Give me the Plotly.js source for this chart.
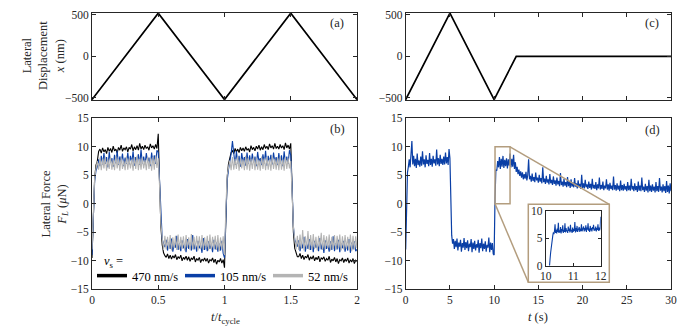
<!DOCTYPE html>
<html>
<head>
<meta charset="utf-8">
<script src="https://cdn.plot.ly/plotly-3.0.1.min.js"></script>
<style>html,body{margin:0;padding:0;background:#fff;}#chart{width:697px;height:335px;}</style>
</head>
<body>
<div id="chart"></div>
<script>
// ---------- data ----------
// (a) lateral displacement, t / t_cycle
const dispCycleT = [0, 0.5, 1, 1.5, 2];
const dispCycleX = [-520, 520, -520, 520, -520];
// (c) lateral displacement, t (s)
const dispTimeT = [0, 5, 10, 12.5, 30];
const dispTimeX = [-520, 520, -520, 0, 0];

// (b) lateral force vs t/t_cycle, sampled every 0.01 t_cycle
const cycleStep = 0.01;
const force470 = [
 -9.5, -3, 4.5, 6.8, 7.5, 9.2, 9.6, 8.9, 9.8, 9.1,
 9.5, 8.8, 9.9, 9.2, 9.7, 9.0, 10.1, 9.3, 9.6, 8.9,
 9.9, 9.4, 10.3, 9.2, 9.8, 9.5, 10.0, 9.1, 9.9, 9.6,
 10.4, 9.3, 10.0, 9.5, 10.2, 9.4, 10.6, 9.6, 10.1, 9.5,
 10.3, 9.7, 10.0, 9.4, 10.5, 9.8, 10.2, 9.6, 10.4, 9.7,
 12.3, 3.5, -4, -7.2, -8.6, -9.1, -9.4, -8.8, -9.6, -9.0,
 -9.7, -9.1, -9.5, -8.9, -9.8, -9.3, -9.6, -9.0, -10.0, -9.4,
 -9.7, -9.2, -9.9, -9.3, -10.1, -9.5, -9.8, -9.2, -10.2, -9.6,
 -9.9, -9.4, -10.3, -9.7, -10.0, -9.5, -10.1, -9.6, -10.4, -9.8,
 -10.0, -9.5, -10.3, -9.7, -10.6, -9.9, -10.2, -9.6, -10.4, -9.8,
 -11.2, -3, 4.5, 7, 8.2, 9.0, 9.3, 8.8, 9.7, 9.1,
 9.6, 9.0, 9.9, 9.3, 9.8, 9.2, 10.0, 9.4, 9.7, 9.1,
 10.2, 9.5, 9.9, 9.3, 10.1, 9.6, 10.3, 9.4, 10.0, 9.5,
 10.4, 9.7, 10.1, 9.5, 10.5, 9.8, 10.2, 9.6, 10.6, 9.7,
 10.1, 9.6, 10.4, 9.8, 10.2, 9.5, 10.7, 9.8, 10.3, 9.6,
 10.6, 2, -5, -7.8, -8.8, -9.3, -9.3, -8.7, -9.6, -9.0,
 -9.8, -9.2, -9.5, -8.9, -9.9, -9.3, -9.7, -9.1, -10.0, -9.4,
 -9.8, -9.2, -10.2, -9.5, -9.7, -9.3, -10.1, -9.6, -9.9, -9.2,
 -10.3, -9.7, -10.0, -9.4, -10.2, -9.6, -10.5, -9.8, -10.0, -9.5,
 -10.3, -9.7, -10.1, -9.5, -10.4, -9.8, -10.2, -9.6, -10.5, -9.9,
 -10.1
];
const force105 = [
 -9, -2, 4, 5.8, 6.5, 7.8, 6.6, 8.4, 6.9, 8.9,
 7.0, 8.2, 6.4, 9.1, 7.2, 8.0, 6.5, 8.6, 7.1, 9.3,
 6.8, 8.3, 7.3, 8.8, 6.6, 8.1, 7.0, 9.0, 6.9, 8.4,
 7.2, 9.2, 6.7, 8.2, 7.4, 8.7, 6.8, 9.5, 7.1, 8.3,
 6.9, 8.9, 7.3, 8.1, 6.6, 9.0, 7.2, 8.5, 7.0, 9.4,
 9.0, 4, -3, -6.2, -7.0, -7.6, -6.3, -8.2, -6.8, -7.9,
 -6.1, -8.4, -7.0, -7.7, -5.6, -8.1, -6.9, -8.3, -6.4, -7.8,
 -7.1, -8.5, -6.2, -7.9, -6.8, -8.2, -5.5, -8.0, -7.0, -8.4,
 -6.5, -7.8, -7.2, -8.6, -6.0, -8.1, -6.9, -8.3, -6.6, -7.9,
 -7.1, -8.5, -6.3, -8.0, -6.8, -8.4, -7.0, -8.2, -6.5, -8.7,
 -9.5, -2, 4, 6.0, 7.2, 8.8, 11.0, 8.1, 6.8, 9.2,
 7.1, 8.4, 6.5, 8.9, 7.3, 8.2, 6.7, 9.0, 7.0, 8.5,
 6.9, 8.8, 7.2, 8.3, 6.6, 9.1, 7.4, 8.0, 6.8, 8.7,
 7.1, 9.3, 6.7, 8.4, 7.2, 8.6, 6.9, 9.0, 7.3, 8.2,
 6.8, 8.9, 7.1, 8.5, 6.6, 9.2, 7.2, 8.3, 7.0, 9.4,
 8.5, 3, -4, -6.3, -7.1, -7.5, -6.4, -8.3, -6.9, -7.8,
 -5.8, -8.4, -7.0, -7.9, -6.2, -8.1, -6.8, -8.5, -6.5, -7.7,
 -7.1, -8.3, -6.0, -8.0, -6.9, -8.6, -6.4, -7.9, -7.2, -8.4,
 -6.6, -8.1, -5.7, -8.3, -6.9, -8.0, -6.3, -8.5, -7.0, -7.8,
 -6.5, -8.4, -7.1, -8.2, -6.2, -8.6, -6.8, -8.0, -6.6, -8.3,
 -8.0
];
const force52 = [
 -8, -1, 4.5, 6.2, 7.5, 6.0, 8.1, 5.9, 7.9, 6.2,
 8.3, 5.8, 7.8, 6.1, 8.2, 6.0, 7.7, 5.9, 8.4, 6.2,
 7.9, 5.8, 8.1, 6.1, 7.6, 5.9, 8.3, 6.0, 8.0, 6.2,
 7.8, 5.8, 8.2, 6.1, 8.4, 5.9, 7.9, 6.0, 8.1, 6.2,
 7.7, 5.9, 8.3, 6.1, 8.0, 5.8, 8.2, 6.0, 8.5, 6.3,
 8.0, 3, -3.5, -6.0, -8.1, -5.6, -8.0, -5.8, -7.9, -5.5,
 -8.2, -5.9, -7.8, -5.6, -8.1, -5.4, -8.0, -5.8, -7.9, -5.7,
 -8.2, -5.5, -7.7, -5.9, -8.1, -5.3, -8.0, -5.8, -7.8, -5.6,
 -8.2, -5.7, -7.9, -5.5, -8.1, -5.9, -7.8, -5.6, -8.2, -5.4,
 -8.0, -5.8, -7.9, -5.6, -8.1, -5.5, -8.3, -5.9, -8.0, -5.7,
 -9, -1, 5, 6.3, 7.6, 5.9, 8.2, 6.0, 7.9, 6.1,
 8.3, 5.8, 8.0, 6.2, 7.8, 5.9, 8.4, 6.0, 8.1, 5.8,
 7.9, 6.1, 8.2, 5.9, 8.0, 6.0, 7.7, 5.8, 8.3, 6.1,
 8.0, 5.9, 8.2, 6.0, 7.8, 5.8, 8.4, 6.1, 7.9, 6.0,
 8.1, 5.9, 8.3, 6.0, 7.8, 5.8, 8.2, 6.1, 8.0, 6.2,
 7.5, 2, -4, -6.2, -8.0, -5.6, -8.1, -5.4, -7.9, -4.6,
 -8.2, -5.7, -7.8, -4.8, -8.1, -5.5, -8.0, -5.3, -7.9, -5.8,
 -8.2, -5.6, -7.7, -5.1, -8.1, -5.5, -8.0, -5.7, -7.8, -5.4,
 -8.2, -5.8, -7.9, -5.5, -8.1, -5.6, -7.8, -5.4, -8.2, -5.7,
 -8.0, -5.5, -7.9, -5.8, -8.1, -5.4, -8.3, -5.6, -8.0, -5.7,
 -7.8
];

// (d) lateral force vs time (s), sampled every 0.1 s
const timeStep = 0.1;
const forceTime = [
 -8, 1, 5.5, 6.5, 7.8, 6.4, 8.2, 11.0, 6.9, 8.4,
 6.6, 7.9, 6.3, 8.8, 6.8, 7.6, 6.5, 8.3, 6.7, 9.2,
 6.9, 7.8, 6.4, 8.5, 7.0, 7.7, 6.6, 8.9, 6.8, 7.9,
 6.5, 8.4, 7.1, 7.8, 6.7, 9.5, 6.9, 8.0, 6.6, 8.6,
 7.0, 7.9, 6.8, 8.3, 6.9, 9.0, 7.1, 8.2, 6.8, 9.6,
 8.0, 0, -5.5, -7.0, -6.2, -7.9, -6.5, -7.6, -6.1, -8.2,
 -6.8, -7.5, -6.3, -8.4, -6.9, -7.7, -6.0, -8.1, -6.7, -7.8,
 -6.4, -8.3, -7.0, -7.6, -6.2, -8.5, -6.8, -7.9, -6.5, -8.2,
 -7.1, -7.7, -6.3, -8.6, -6.9, -7.8, -6.1, -8.3, -7.0, -7.9,
 -6.6, -8.4, -7.2, -7.7, -5.9, -8.5, -6.8, -8.1, -6.9, -8.8,
 -9.0, 1, 6.0, 5.8, 7.5, 6.4, 8.2, 6.1, 7.9, 6.5,
 8.4, 6.3, 7.7, 6.6, 8.0, 6.2, 7.8, 6.7, 8.8, 6.4,
 7.9, 6.5, 8.6, 6.1, 7.3, 5.6, 6.5, 5.2, 6.0, 4.9,
 5.7, 4.6, 5.5, 4.3, 5.2, 4.4, 5.6, 4.1, 5.0, 7.8,
 4.3, 4.9, 3.9, 5.3, 4.0, 4.7, 3.8, 5.5, 4.1, 4.6,
 3.7, 5.1, 3.9, 4.5, 3.6, 6.4, 3.8, 4.4, 3.5, 4.9,
 3.7, 4.3, 3.4, 5.2, 3.6, 4.2, 3.3, 4.8, 3.5, 4.1,
 3.2, 4.6, 3.4, 4.0, 3.1, 5.4, 3.3, 3.9, 3.0, 4.4,
 3.2, 3.8, 2.9, 4.7, 3.1, 3.9, 2.8, 4.3, 3.0, 3.7,
 2.9, 4.5, 3.0, 3.6, 2.7, 4.1, 2.9, 3.5, 2.6, 5.1,
 2.8, 3.6, 2.7, 4.2, 2.9, 3.4, 2.6, 3.9, 2.8, 3.5,
 2.5, 4.4, 2.7, 3.3, 2.6, 3.8, 2.4, 3.4, 2.7, 4.6,
 2.5, 3.3, 2.6, 3.9, 2.4, 3.2, 2.7, 4.3, 2.5, 3.4,
 2.3, 3.7, 2.6, 3.2, 2.4, 4.8, 2.5, 3.3, 2.3, 3.6,
 2.5, 3.2, 2.2, 4.1, 2.4, 3.3, 2.3, 3.5, 2.5, 3.1,
 2.2, 3.8, 2.4, 3.2, 2.3, 4.4, 2.5, 3.1, 2.2, 3.6,
 2.4, 3.1, 2.1, 3.9, 2.3, 3.2, 2.2, 4.6, 2.4, 3.0,
 2.1, 3.5, 2.3, 3.1, 2.0, 4.2, 2.2, 3.2, 2.1, 3.4,
 2.3, 3.0, 2.0, 3.8, 2.2, 3.1, 2.1, 4.5, 2.3, 3.0,
 2.0, 3.4, 2.2, 3.1, 1.9, 4.0, 2.1, 3.2, 1.8, 3.6,
 2.2
];

// inset: 10 s .. 12 s, sampled every 0.02 s
const insetStart = 10;
const insetStep = 0.02;
const forceInset = [
 -9, -7.5, -6, -4.5, -3, -1.8, -0.8, 0.2, 1.3, 2.4,
 3.5, 4.4, 5.2, 5.6, 6.1, 5.8, 6.4, 7.6, 6.0, 6.6,
 5.9, 6.8, 6.2, 7.9, 6.0, 6.5, 6.1, 7.1, 5.9, 6.7,
 6.3, 7.4, 6.0, 6.6, 6.2, 7.8, 6.1, 6.9, 6.3, 6.5,
 6.0, 7.2, 6.4, 6.8, 6.1, 7.5, 6.3, 6.6, 6.0, 7.0,
 6.2, 6.7, 6.4, 8.0, 6.1, 6.9, 6.3, 7.3, 6.2, 6.6,
 6.5, 7.1, 6.2, 6.8, 6.4, 7.6, 6.3, 6.7, 6.6, 7.2,
 6.3, 6.9, 6.5, 7.4, 6.2, 7.0, 6.6, 7.8, 6.4, 6.8,
 6.2, 7.3, 6.5, 6.9, 6.3, 7.1, 6.7, 7.5, 6.4, 6.8,
 6.5, 7.2, 6.3, 6.9, 6.6, 7.6, 6.4, 7.0, 6.5, 6.8,
 9.0
];
// zoomed window shown in (d)
const zoomWin = {t0: 10.1, t1: 11.8, f0: 0, f1: 10};

const speedLabels = ['470 nm/s', '105 nm/s', '52 nm/s'];
const speedColors = ['#000000', '#0a3fa6', '#b4b4b4'];

// ---------- build ----------
const W = 697, H = 335;
const px = v => v / W;
const py = v => 1 - v / H;
const grid = (arr, step, start) => arr.map((_, i) => +((start || 0) + i * step).toFixed(4));

const tCycle = grid(force470, cycleStep);
const tTime = grid(forceTime, timeStep);
const tInset = grid(forceInset, insetStep, insetStart);

const blue = speedColors[1];
const FONT = '"Liberation Serif", serif';
const AX = '#262626';
const TAN = '#b39d7e';

const dom = {
  xL: [px(92), px(357)], xR: [px(405.7), px(671)],
  yT: [py(100), py(12.5)], yB: [py(289.3), py(118.3)],
  xI: [px(545.7), px(600.7)], yI: [py(265.5), py(211.3)]
};

function axis(extra) {
  return Object.assign({
    showline: true, linecolor: AX, linewidth: 1, mirror: 'ticks',
    ticks: 'inside', ticklen: 4, tickcolor: AX, tickwidth: 1,
    showgrid: false, zeroline: false,
    tickfont: {family: FONT, size: 11.5, color: AX},
    fixedrange: true
  }, extra);
}

const traces = [
  {x: dispCycleT, y: dispCycleX, xaxis: 'x', yaxis: 'y', mode: 'lines',
   line: {color: '#000', width: 1.7}, showlegend: false},
  {x: dispTimeT, y: dispTimeX, xaxis: 'x3', yaxis: 'y3', mode: 'lines',
   line: {color: '#000', width: 1.7}, showlegend: false}
];
[force470, force105, force52].forEach((f, k) => {
  traces.push({x: tCycle, y: f, xaxis: 'x2', yaxis: 'y2', mode: 'lines',
    line: {color: speedColors[k], width: 1.1}, showlegend: false});
});
// legend entries
speedLabels.forEach((lab, k) => {
  traces.push({x: [null], y: [null], xaxis: 'x2', yaxis: 'y2', mode: 'lines',
    name: lab, line: {color: speedColors[k], width: 3.5}, showlegend: true});
});
traces.push({x: tTime, y: forceTime, xaxis: 'x4', yaxis: 'y4', mode: 'lines',
  line: {color: blue, width: 1.2}, showlegend: false});
traces.push({x: tInset, y: forceInset, xaxis: 'x5', yaxis: 'y5', mode: 'lines',
  line: {color: blue, width: 1.1}, showlegend: false});

const rx4 = [0, 30], ry4 = [-15, 15];
const d2px = (v, r, d) => d[0] + (v - r[0]) / (r[1] - r[0]) * (d[1] - d[0]);

const frame = {x0: px(528.3), x1: px(609.3), y0: py(282.3), y1: py(204.3)};

function note(text, x, y, extra) {
  return Object.assign({text: text, xref: 'paper', yref: 'paper', x: px(x), y: py(y),
    xanchor: 'center', yanchor: 'middle', showarrow: false,
    font: {family: FONT, size: 12.5, color: AX}}, extra || {});
}

const layout = {
  width: W, height: H,
  margin: {l: 0, r: 0, t: 0, b: 0},
  paper_bgcolor: '#fff', plot_bgcolor: '#fff',
  font: {family: FONT, size: 12, color: AX},
  xaxis: axis({domain: dom.xL, anchor: 'y', range: [0, 2], dtick: 0.5, showticklabels: false}),
  yaxis: axis({domain: dom.yT, anchor: 'x', range: [-525, 528], tickvals: [-500, 0, 500]}),
  xaxis2: axis({domain: dom.xL, anchor: 'y2', range: [0, 2], tickvals: [0, 0.5, 1, 1.5, 2]}),
  yaxis2: axis({domain: dom.yB, anchor: 'x2', range: [-15, 15], dtick: 5}),
  xaxis3: axis({domain: dom.xR, anchor: 'y3', range: [0, 30], dtick: 5, showticklabels: false}),
  yaxis3: axis({domain: dom.yT, anchor: 'x3', range: [-525, 528], tickvals: [-500, 0, 500]}),
  xaxis4: axis({domain: dom.xR, anchor: 'y4', range: rx4, dtick: 5}),
  yaxis4: axis({domain: dom.yB, anchor: 'x4', range: ry4, dtick: 5}),
  xaxis5: axis({domain: dom.xI, anchor: 'y5', range: [10, 12], dtick: 1, ticklen: 3}),
  yaxis5: axis({domain: dom.yI, anchor: 'x5', range: [0, 10], dtick: 5, ticklen: 3}),
  showlegend: true,
  legend: {
    orientation: 'h', x: px(92), y: py(261), xanchor: 'left', yanchor: 'top',
    bgcolor: 'rgba(0,0,0,0)', font: {family: FONT, size: 12.5, color: '#000'},
    entrywidth: 43, entrywidthmode: 'pixels', itemwidth: 30, tracegroupgap: 0
  },
  shapes: [
    {type: 'rect', xref: 'x4', yref: 'y4', x0: zoomWin.t0, x1: zoomWin.t1, y0: zoomWin.f0, y1: zoomWin.f1,
     line: {color: TAN, width: 1.5}, layer: 'above'},
    {type: 'rect', xref: 'paper', yref: 'paper', x0: frame.x0, x1: frame.x1, y0: frame.y0, y1: frame.y1,
     line: {color: TAN, width: 1.5}, fillcolor: 'rgba(255,255,255,0)', layer: 'above'},
    {type: 'line', xref: 'paper', yref: 'paper',
     x0: d2px(zoomWin.t1, rx4, dom.xR), y0: d2px(zoomWin.f1, ry4, dom.yB), x1: frame.x1, y1: frame.y1,
     line: {color: TAN, width: 1.5}, layer: 'above'},
    {type: 'line', xref: 'paper', yref: 'paper',
     x0: d2px(zoomWin.t0, rx4, dom.xR), y0: d2px(zoomWin.f0, ry4, dom.yB), x1: frame.x0, y1: frame.y0,
     line: {color: TAN, width: 1.5}, layer: 'above'}
  ],
  annotations: [
    note('(a)', 337, 23),
    note('(b)', 337, 129),
    note('(c)', 652, 23),
    note('(d)', 652, 130),
    note('Lateral<br>Displacement<br><i>x</i> (nm)', 44, 56, {textangle: -90}),
    note('Lateral Force<br><i>F<sub>L</sub></i> (<i>μ</i>N)', 54.5, 204, {textangle: -90}),
    note('<i>t</i>/<i>t</i><sub>cycle</sub>', 225, 318),
    note('<i>t</i> (s)', 538, 317),
    note('<i>v</i><sub>s</sub> =', 102, 262, {xanchor: 'left', font: {family: FONT, size: 12.5, color: '#000'}})
  ]
};

Plotly.newPlot('chart', traces, layout, {displayModeBar: false, staticPlot: true});
</script>
</body>
</html>
